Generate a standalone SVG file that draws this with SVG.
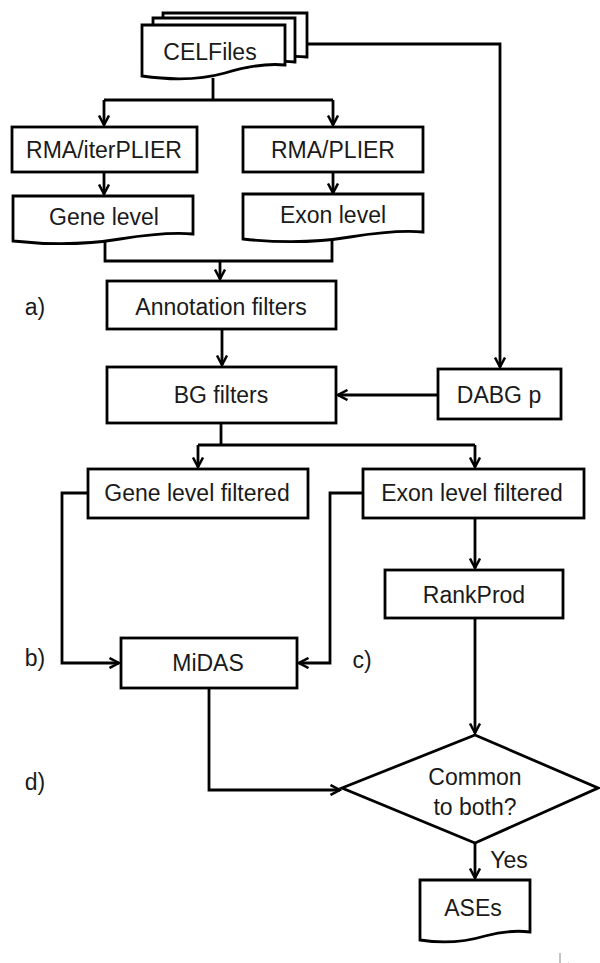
<svg xmlns="http://www.w3.org/2000/svg" width="600" height="963" viewBox="0 0 600 963">
<style>
.b{fill:#fff;stroke:#000;stroke-width:2.8;stroke-linejoin:miter}
.t{font-family:"Liberation Sans",Arial,sans-serif;font-size:23px;fill:#1a1a1a;text-anchor:middle}
.l{font-family:"Liberation Sans",Arial,sans-serif;font-size:23px;fill:#1a1a1a;text-anchor:middle}
.c{fill:none;stroke:#000;stroke-width:2.8}
.a{marker-end:url(#ah)}
</style>
<defs>
<marker id="ah" viewBox="0 0 12 12" refX="10.5" refY="6" markerWidth="12" markerHeight="12" markerUnits="userSpaceOnUse" orient="auto">
<path d="M1,1 L10.5,6 L1,11" fill="none" stroke="#000" stroke-width="2.5"/>
</marker>
</defs>
<rect width="600" height="963" fill="#fff"/>
<g id="connectors">
<path class="c" d="M213,78 V100"/>
<path class="c" d="M104,100 H333"/>
<path class="c a" d="M104,100 V125"/>
<path class="c a" d="M333,100 V125"/>
<path class="c a" d="M307,44 H500 V367"/>
<path class="c a" d="M104,172 V194"/>
<path class="c a" d="M333,172 V193"/>
<path class="c" d="M105,241 V261 H332 V236"/>
<path class="c a" d="M220,261 V279"/>
<path class="c a" d="M222,329 V365"/>
<path class="c a" d="M438,395 H338"/>
<path class="c" d="M221,423 V445"/>
<path class="c" d="M198,445 H475"/>
<path class="c a" d="M198,445 V467"/>
<path class="c a" d="M475,445 V467"/>
<path class="c a" d="M88,493 H62 V663 H119"/>
<path class="c a" d="M363,493 H330 V663 H299"/>
<path class="c a" d="M475,518 V568"/>
<path class="c a" d="M475,618 V733"/>
<path class="c a" d="M209,688 V790 H340"/>
<path class="c a" d="M475,843 V878"/>
</g>
<g id="celfiles">
<path class="b" d="M163,13 H307 V57 C290,55 270,58 255,62 H163 Z"/>
<path class="b" d="M153,18 H295 V62 C280,60 262,63 248,67 H153 Z"/>
<path class="b" d="M142,25 H285 V65 C265,63 245,67 225,73 C200,80 170,80 142,76 Z"/>
<text class="t" x="210" y="60">CELFiles</text>
</g>
<g id="rma-iterplier">
<rect class="b" x="12" y="127" width="185" height="45"/>
<text class="t" x="104" y="158">RMA/iterPLIER</text>
</g>
<g id="rma-plier">
<rect class="b" x="243" y="127" width="180" height="45"/>
<text class="t" x="333" y="158">RMA/PLIER</text>
</g>
<g id="gene-level">
<path class="b" d="M13,196 H193 V234 C170,232 145,235 120,239 C90,244 50,245 13,241 Z"/>
<text class="t" x="104" y="225">Gene level</text>
</g>
<g id="exon-level">
<path class="b" d="M243,194 H423 V232 C400,230 375,233 350,237 C320,242 280,243 243,239 Z"/>
<text class="t" x="333" y="223">Exon level</text>
</g>
<g id="annotation-filters">
<rect class="b" x="107" y="281" width="229" height="48"/>
<text class="t" x="221" y="315">Annotation filters</text>
</g>
<text class="l" x="35" y="315">a)</text>
<g id="bg-filters">
<rect class="b" x="107" y="367" width="229" height="56"/>
<text class="t" x="221" y="403">BG filters</text>
</g>
<g id="dabg-p">
<rect class="b" x="438" y="369" width="123" height="50"/>
<text class="t" x="499" y="403">DABG p</text>
</g>
<g id="gene-level-filtered">
<rect class="b" x="88" y="469" width="220" height="49"/>
<text class="t" x="197" y="501">Gene level filtered</text>
</g>
<g id="exon-level-filtered">
<rect class="b" x="363" y="469" width="221" height="49"/>
<text class="t" x="472" y="501">Exon level filtered</text>
</g>
<g id="rankprod">
<rect class="b" x="385" y="570" width="178" height="48"/>
<text class="t" x="474" y="603">RankProd</text>
</g>
<g id="midas">
<rect class="b" x="121" y="638" width="176" height="50"/>
<text class="t" x="208" y="671">MiDAS</text>
</g>
<text class="l" x="35" y="666">b)</text>
<text class="l" x="362" y="668">c)</text>
<text class="l" x="35" y="790">d)</text>
<g id="common">
<polygon class="b" points="475,735 598,788 475,843 342,788"/>
<text class="t" x="475" y="785">Common</text>
<text class="t" x="475" y="815">to both?</text>
</g>
<text class="l" x="509" y="868">Yes</text>
<g id="ases">
<path class="b" d="M420,880 H530 V932 C515,930 500,932 485,936 C465,942 445,944 420,940 Z"/>
<text class="t" x="473" y="916">ASEs</text>
</g>
<path d="M560,953 V966 L569,963" fill="none" stroke="#888" stroke-width="1"/>
</svg>
